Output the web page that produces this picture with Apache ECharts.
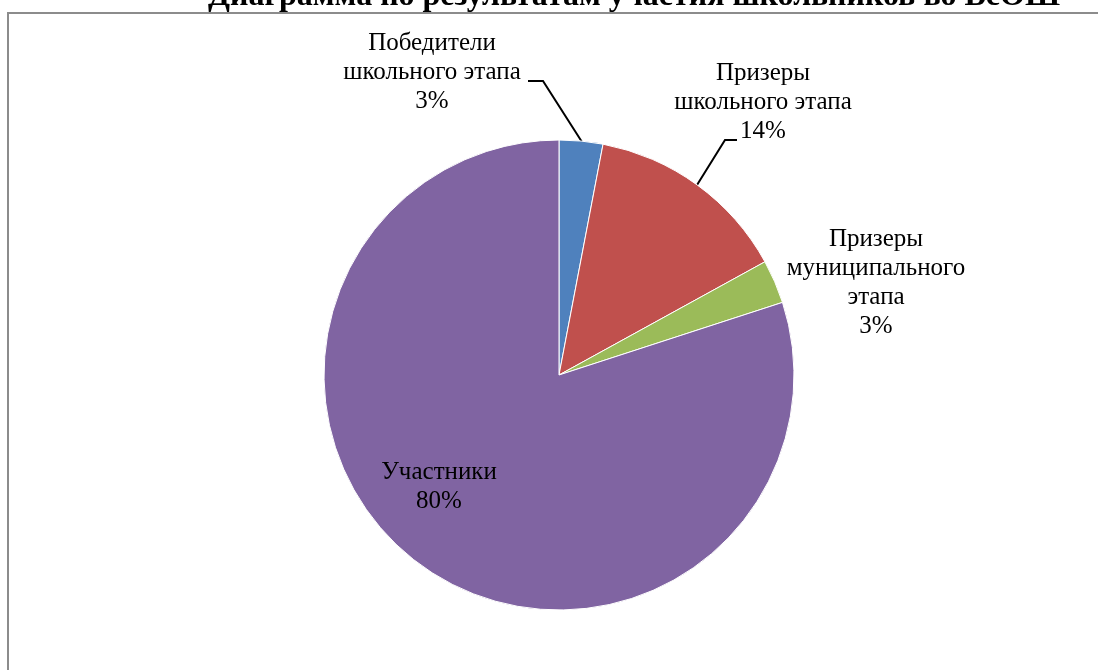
<!DOCTYPE html>
<html>
<head>
<meta charset="utf-8">
<script src="https://cdn.jsdelivr.net/npm/echarts@6/dist/echarts.min.js"></script>
<style>
  html, body { margin: 0; padding: 0; background: #fff; }
  #chart { width: 1098px; height: 670px; }
</style>
</head>
<body>
<div id="chart"></div>
<script>
const titleText = 'Диаграмма по результатам участия школьников во ВсОШ'
const categories = ['Победители\nшкольного этапа', 'Призеры\nшкольного этапа', 'Призеры\nмуниципального\nэтапа', 'Участники']
const shares = [3, 14, 3, 80]
const colors = ['#4F81BD', '#C0504D', '#9BBB59', '#8064A2']

// hand placed label spots, like the original office chart
const labelSpots = [
  { x: 432, y: 72, line: [[582, 142], [543, 81], [528, 81]] },
  { x: 763, y: 102, line: [[697, 185], [725, 140], [737, 140]] },
  { x: 876, y: 283 },
  { x: 439, y: 487 }
]

const chart = echarts.init(document.getElementById('chart'))
chart.setOption({
  animation: false,
  title: {
    text: titleText,
    left: 629,
    top: -24,
    textAlign: 'center',
    textStyle: {
      fontFamily: 'Liberation Serif',
      fontWeight: 'bold',
      fontSize: 32,
      color: '#000'
    }
  },
  graphic: [{
    type: 'rect',
    shape: { x: 8, y: 13, width: 1100, height: 700 },
    style: { fill: 'none', stroke: '#8c8c8c', lineWidth: 2 },
    z: -1
  }],
  series: [{
    type: 'pie',
    center: [559, 375],
    radius: 235,
    startAngle: 90,
    clockwise: true,
    data: categories.map((name, i) => ({
      name: name,
      value: shares[i],
      itemStyle: { color: colors[i] },
      labelLine: { show: i < 2 } // last two labels have no leader
    })),
    itemStyle: { borderColor: '#fff', borderWidth: 1 },
    label: {
      show: true,
      position: 'outside',
      formatter: p => p.name + '\n' + p.value + '%',
      fontFamily: 'Liberation Serif',
      fontSize: 25,
      lineHeight: 29,
      color: '#000',
      align: 'center'
    },
    labelLine: {
      show: true,
      lineStyle: { color: '#000', width: 2 }
    },
    labelLayout: params => {
      const s = labelSpots[params.dataIndex]
      const out = { x: s.x, y: s.y, align: 'center', verticalAlign: 'middle' }
      if (s.line) out.labelLinePoints = s.line
      return out
    },
    emphasis: { disabled: true }
  }]
})
</script>
</body>
</html>
